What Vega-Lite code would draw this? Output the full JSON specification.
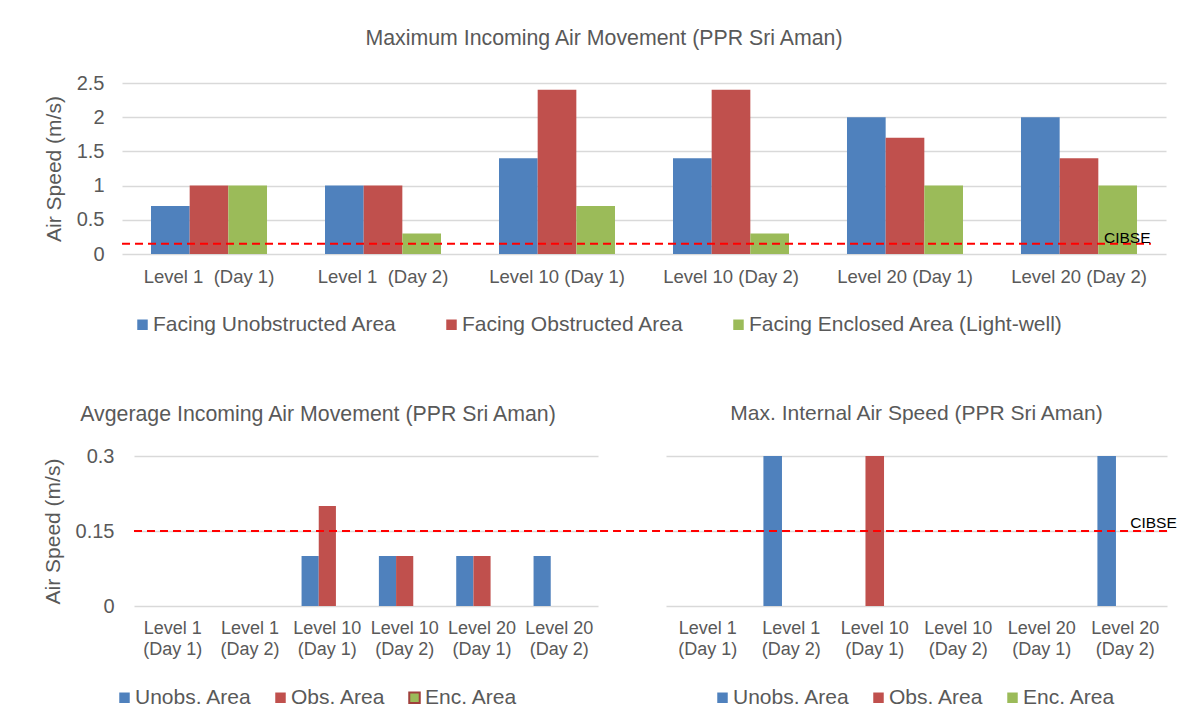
{
  "$schema": "https://vega.github.io/schema/vega-lite/v6.json",
  "background": "white",
  "padding": {"left": 42, "top": 27, "right": 10, "bottom": 5},
  "datasets": {
    "top": [
      {"level": "Level 1\u00a0\u00a0(Day 1)", "series": "Facing Unobstructed Area", "speed": 0.7},
      {"level": "Level 1\u00a0\u00a0(Day 1)", "series": "Facing Obstructed Area", "speed": 1.0},
      {"level": "Level 1\u00a0\u00a0(Day 1)", "series": "Facing Enclosed Area (Light-well)", "speed": 1.0},
      {"level": "Level 1\u00a0\u00a0(Day 2)", "series": "Facing Unobstructed Area", "speed": 1.0},
      {"level": "Level 1\u00a0\u00a0(Day 2)", "series": "Facing Obstructed Area", "speed": 1.0},
      {"level": "Level 1\u00a0\u00a0(Day 2)", "series": "Facing Enclosed Area (Light-well)", "speed": 0.3},
      {"level": "Level 10 (Day 1)", "series": "Facing Unobstructed Area", "speed": 1.4},
      {"level": "Level 10 (Day 1)", "series": "Facing Obstructed Area", "speed": 2.4},
      {"level": "Level 10 (Day 1)", "series": "Facing Enclosed Area (Light-well)", "speed": 0.7},
      {"level": "Level 10 (Day 2)", "series": "Facing Unobstructed Area", "speed": 1.4},
      {"level": "Level 10 (Day 2)", "series": "Facing Obstructed Area", "speed": 2.4},
      {"level": "Level 10 (Day 2)", "series": "Facing Enclosed Area (Light-well)", "speed": 0.3},
      {"level": "Level 20 (Day 1)", "series": "Facing Unobstructed Area", "speed": 2.0},
      {"level": "Level 20 (Day 1)", "series": "Facing Obstructed Area", "speed": 1.7},
      {"level": "Level 20 (Day 1)", "series": "Facing Enclosed Area (Light-well)", "speed": 1.0},
      {"level": "Level 20 (Day 2)", "series": "Facing Unobstructed Area", "speed": 2.0},
      {"level": "Level 20 (Day 2)", "series": "Facing Obstructed Area", "speed": 1.4},
      {"level": "Level 20 (Day 2)", "series": "Facing Enclosed Area (Light-well)", "speed": 1.0}
    ],
    "avg": [
      {"level": "Level 1 (Day 1)", "series": "Unobs. Area", "speed": 0},
      {"level": "Level 1 (Day 1)", "series": "Obs. Area", "speed": 0},
      {"level": "Level 1 (Day 1)", "series": "Enc. Area", "speed": 0},
      {"level": "Level 1 (Day 2)", "series": "Unobs. Area", "speed": 0},
      {"level": "Level 1 (Day 2)", "series": "Obs. Area", "speed": 0},
      {"level": "Level 1 (Day 2)", "series": "Enc. Area", "speed": 0},
      {"level": "Level 10 (Day 1)", "series": "Unobs. Area", "speed": 0.1},
      {"level": "Level 10 (Day 1)", "series": "Obs. Area", "speed": 0.2},
      {"level": "Level 10 (Day 1)", "series": "Enc. Area", "speed": 0},
      {"level": "Level 10 (Day 2)", "series": "Unobs. Area", "speed": 0.1},
      {"level": "Level 10 (Day 2)", "series": "Obs. Area", "speed": 0.1},
      {"level": "Level 10 (Day 2)", "series": "Enc. Area", "speed": 0},
      {"level": "Level 20 (Day 1)", "series": "Unobs. Area", "speed": 0.1},
      {"level": "Level 20 (Day 1)", "series": "Obs. Area", "speed": 0.1},
      {"level": "Level 20 (Day 1)", "series": "Enc. Area", "speed": 0},
      {"level": "Level 20 (Day 2)", "series": "Unobs. Area", "speed": 0.1},
      {"level": "Level 20 (Day 2)", "series": "Obs. Area", "speed": 0},
      {"level": "Level 20 (Day 2)", "series": "Enc. Area", "speed": 0}
    ],
    "internal": [
      {"level": "Level 1 (Day 1)", "series": "Unobs. Area", "speed": 0},
      {"level": "Level 1 (Day 1)", "series": "Obs. Area", "speed": 0},
      {"level": "Level 1 (Day 1)", "series": "Enc. Area", "speed": 0},
      {"level": "Level 1 (Day 2)", "series": "Unobs. Area", "speed": 0.3},
      {"level": "Level 1 (Day 2)", "series": "Obs. Area", "speed": 0},
      {"level": "Level 1 (Day 2)", "series": "Enc. Area", "speed": 0},
      {"level": "Level 10 (Day 1)", "series": "Unobs. Area", "speed": 0},
      {"level": "Level 10 (Day 1)", "series": "Obs. Area", "speed": 0.3},
      {"level": "Level 10 (Day 1)", "series": "Enc. Area", "speed": 0},
      {"level": "Level 10 (Day 2)", "series": "Unobs. Area", "speed": 0},
      {"level": "Level 10 (Day 2)", "series": "Obs. Area", "speed": 0},
      {"level": "Level 10 (Day 2)", "series": "Enc. Area", "speed": 0},
      {"level": "Level 20 (Day 1)", "series": "Unobs. Area", "speed": 0},
      {"level": "Level 20 (Day 1)", "series": "Obs. Area", "speed": 0},
      {"level": "Level 20 (Day 1)", "series": "Enc. Area", "speed": 0},
      {"level": "Level 20 (Day 2)", "series": "Unobs. Area", "speed": 0.3},
      {"level": "Level 20 (Day 2)", "series": "Obs. Area", "speed": 0},
      {"level": "Level 20 (Day 2)", "series": "Enc. Area", "speed": 0}
    ],
    "cibseTop": [{"level": "Level 20 (Day 2)", "speed": 0.15, "label": "CIBSE"}],
    "cibseBottom": [{"level": "Level 20 (Day 2)", "speed": 0.15, "label": "CIBSE"}]
  },
  "config": {
    "font": "Liberation Sans",
    "view": {"stroke": null},
    "title": {"font": "Liberation Sans", "fontSize": 21, "fontWeight": "normal", "color": "#595959", "frame": "group"},
    "axis": {
      "labelFont": "Liberation Sans", "labelColor": "#595959",
      "titleFont": "Liberation Sans", "titleColor": "#595959", "titleFontWeight": "normal",
      "domain": false, "ticks": false, "gridColor": "#D9D9D9", "gridWidth": 1.6
    },
    "legend": {
      "labelFont": "Liberation Sans", "labelColor": "#595959", "labelFontSize": 21, "labelLimit": 0,
      "symbolType": "square", "symbolSize": 110, "labelOffset": 0, "title": null,
      "direction": "horizontal", "orient": "none"
    }
  },
  "spacing": 68,
  "resolve": {"scale": {"color": "independent", "x": "independent", "xOffset": "independent", "y": "independent"}, "legend": {"color": "independent"}},
  "vconcat": [
    {
      "width": 1044,
      "height": 171,
      "title": {"text": "Maximum Incoming Air Movement (PPR Sri Aman)", "dx": -40, "offset": 24, "fontSize": 21.3},
      "encoding": {
        "x": {"field": "level", "type": "nominal", "title": null,
              "scale": {"domain": ["Level 1\u00a0\u00a0(Day 1)", "Level 1\u00a0\u00a0(Day 2)", "Level 10 (Day 1)", "Level 10 (Day 2)", "Level 20 (Day 1)", "Level 20 (Day 2)"], "paddingInner": 0.3333, "paddingOuter": 0.1667},
              "axis": {"labelAngle": 0, "labelFontSize": 18.5, "labelPadding": 13, "grid": false}},
        "y": {"field": "speed", "type": "quantitative", "title": "Air Speed (m/s)",
              "scale": {"domain": [0, 2.5]},
              "axis": {"values": [0, 0.5, 1, 1.5, 2, 2.5], "format": ".1~f", "labelFontSize": 20, "labelPadding": 18, "titleFontSize": 21, "titlePadding": 12, "labelOverlap": false}}
      },
      "layer": [
        {
          "data": {"name": "top"},
          "mark": {"type": "bar"},
          "encoding": {
            "xOffset": {"field": "series", "type": "nominal",
                        "scale": {"domain": ["Facing Unobstructed Area", "Facing Obstructed Area", "Facing Enclosed Area (Light-well)"]}},
            "color": {"field": "series", "type": "nominal",
                      "scale": {"domain": ["Facing Unobstructed Area", "Facing Obstructed Area", "Facing Enclosed Area (Light-well)"],
                                "range": ["#4F81BD", "#C0504D", "#9BBB59"]},
                      "legend": {"legendX": 10, "legendY": 231, "columnPadding": 44}}
          }
        },
        {
          "data": {"name": "cibseTop"},
          "mark": {"type": "rule", "color": "#FF0000", "strokeDash": [8, 5], "strokeWidth": 2},
          "encoding": {
            "x": {"datum": "Level 1\u00a0\u00a0(Day 1)", "bandPosition": -0.25},
            "x2": {"datum": "Level 20 (Day 2)", "bandPosition": 1.12}
          }
        },
        {
          "data": {"name": "cibseTop"},
          "mark": {"type": "text", "align": "left", "baseline": "alphabetic", "dx": 25, "dy": -1, "fontSize": 15.5, "color": "#000000", "font": "Liberation Sans"},
          "encoding": {
            "text": {"field": "label"}
          }
        }
      ]
    },
    {
      "spacing": 0,
      "resolve": {"scale": {"color": "independent", "x": "independent", "xOffset": "independent", "y": "independent"}, "legend": {"color": "independent"}},
      "hconcat": [
        {
          "width": 476,
          "height": 150,
          "title": {"text": "Avgerage Incoming Air Movement (PPR Sri Aman)", "dx": -42, "offset": 21, "fontSize": 21.3},
          "encoding": {
            "x": {"field": "level", "type": "nominal", "title": null,
                  "scale": {"domain": ["Level 1 (Day 1)", "Level 1 (Day 2)", "Level 10 (Day 1)", "Level 10 (Day 2)", "Level 20 (Day 1)", "Level 20 (Day 2)"], "range": [12, 476], "paddingInner": 0.3333, "paddingOuter": 0.1667},
                  "axis": {"labelAngle": 0, "labelFontSize": 18, "labelPadding": 13, "grid": false, "labelLineHeight": 21,
                           "labelExpr": "[split(datum.label, ' (')[0], '(' + split(datum.label, ' (')[1]]"}},
            "y": {"field": "speed", "type": "quantitative", "title": "Air Speed (m/s)",
                  "scale": {"domain": [0, 0.3]},
                  "axis": {"values": [0, 0.15, 0.3], "format": ".2~f", "offset": -12, "labelFontSize": 20, "labelPadding": 20, "titleFontSize": 21, "titlePadding": 12, "labelOverlap": false}}
          },
          "layer": [
            {
              "data": {"name": "avg"},
              "mark": {"type": "bar"},
              "encoding": {
                "xOffset": {"field": "series", "type": "nominal",
                            "scale": {"domain": ["Unobs. Area", "Obs. Area", "Enc. Area"]}},
                "color": {"field": "series", "type": "nominal",
                          "scale": {"domain": ["Unobs. Area", "Obs. Area", "Enc. Area"], "range": ["#4F81BD", "#C0504D", "#9BBB59"]},
                          "legend": {"legendX": -8, "legendY": 231, "columnPadding": 18,
                                     "encode": {"symbols": {"update": {"stroke": {"signal": "datum.value === 'Enc. Area' ? '#A0403C' : 'transparent'"}, "strokeWidth": {"value": 2}}}}}}
              }
            },
            {
              "data": {"name": "cibseBottom"},
              "mark": {"type": "rule", "color": "#FF0000", "strokeDash": [8, 5], "strokeWidth": 2},
              "encoding": {
                "x": {"datum": "Level 1 (Day 1)", "bandPosition": -0.25},
                "x2": {"value": "width"}
              }
            }
          ]
        },
        {
          "width": 501,
          "height": 150,
          "title": {"text": "Max. Internal Air Speed (PPR Sri Aman)", "offset": 32},
          "encoding": {
            "x": {"field": "level", "type": "nominal", "title": null,
                  "scale": {"domain": ["Level 1 (Day 1)", "Level 1 (Day 2)", "Level 10 (Day 1)", "Level 10 (Day 2)", "Level 20 (Day 1)", "Level 20 (Day 2)"], "paddingInner": 0.3333, "paddingOuter": 0.1667},
                  "axis": {"labelAngle": 0, "labelFontSize": 18, "labelPadding": 13, "grid": false, "labelLineHeight": 21,
                           "labelExpr": "[split(datum.label, ' (')[0], '(' + split(datum.label, ' (')[1]]"}},
            "y": {"field": "speed", "type": "quantitative", "title": null,
                  "scale": {"domain": [0, 0.3]},
                  "axis": {"values": [0, 0.15, 0.3], "labels": false, "minExtent": 0}}
          },
          "layer": [
            {
              "data": {"name": "internal"},
              "mark": {"type": "bar"},
              "encoding": {
                "xOffset": {"field": "series", "type": "nominal",
                            "scale": {"domain": ["Unobs. Area", "Obs. Area", "Enc. Area"]}},
                "color": {"field": "series", "type": "nominal",
                          "scale": {"domain": ["Unobs. Area", "Obs. Area", "Enc. Area"], "range": ["#4F81BD", "#C0504D", "#9BBB59"]},
                          "legend": {"legendX": 46, "legendY": 231, "columnPadding": 18}}
              }
            },
            {
              "data": {"name": "cibseBottom"},
              "mark": {"type": "rule", "color": "#FF0000", "strokeDash": [8, 5], "strokeWidth": 2},
              "encoding": {
                "x": {"datum": "Level 1 (Day 1)", "bandPosition": -1.435},
                "x2": {"value": "width"}
              }
            },
            {
              "data": {"name": "cibseBottom"},
              "mark": {"type": "text", "align": "left", "baseline": "alphabetic", "dx": 5, "dy": -3, "fontSize": 15.5, "color": "#000000", "font": "Liberation Sans"},
              "encoding": {
                "x": {"field": "level", "type": "nominal"},
                "text": {"field": "label"}
              }
            }
          ]
        }
      ]
    }
  ]
}
